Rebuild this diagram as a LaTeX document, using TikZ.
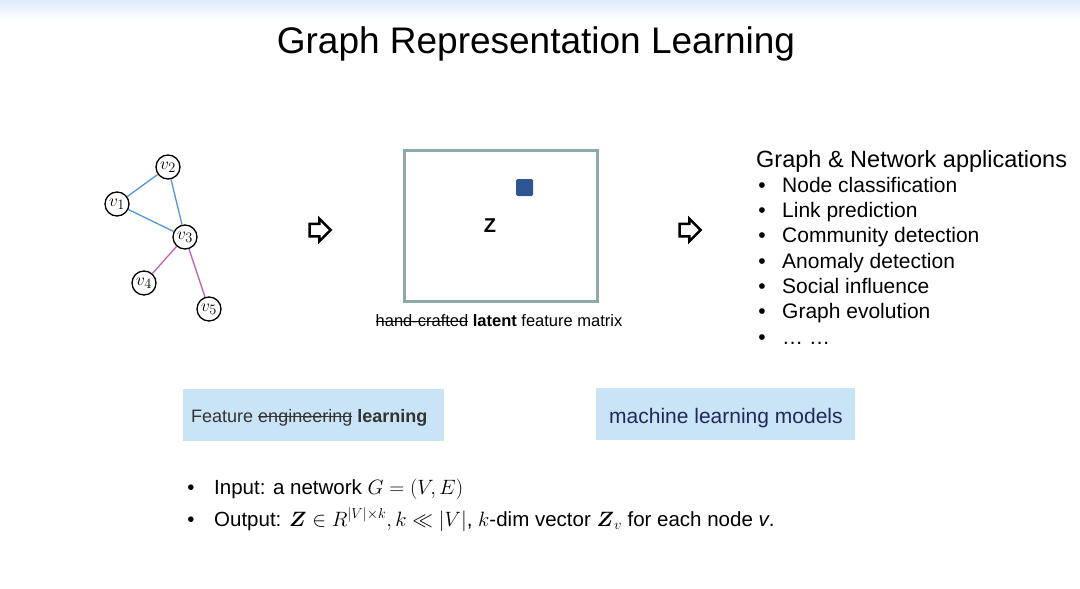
\documentclass[tikz,border=0pt]{standalone}
\usepackage{amsmath}
\usepackage{amssymb}
\usepackage{fontspec}
\setmainfont{Liberation Sans}
\usetikzlibrary{shapes.arrows}

\definecolor{edgeblue}{RGB}{80,150,212}
\definecolor{edgepink}{RGB}{192,96,184}
\definecolor{matgray}{RGB}{140,170,170}
\definecolor{cellblue}{RGB}{45,85,145}
\definecolor{boxblue}{RGB}{200,228,246}
\definecolor{navytext}{RGB}{35,40,90}
\definecolor{topband}{RGB}{222,236,250}

\newcommand{\fs}[1]{\fontsize{#1}{#1}\selectfont}
\newsavebox{\strkbox}
\newcommand{\strk}[1]{\sbox{\strkbox}{#1}%
  \rlap{\rule[0.3em]{\wd\strkbox}{0.07em}}\usebox{\strkbox}}

\begin{document}
\begin{tikzpicture}[x=1pt,y=-1pt,
  vert/.style={circle,draw,line width=1.3pt,minimum size=24pt,inner sep=0pt,font=\fs{19}},
  blueedge/.style={draw=edgeblue,line width=1.3pt},
  pinkedge/.style={draw=edgepink,line width=1.3pt},
  fatarrow/.style={single arrow,draw,line width=2.5pt,inner sep=5pt,minimum height=21pt,
    single arrow head extend=5pt,single arrow head indent=0pt},
  bluebox/.style={fill=boxblue,inner sep=0pt},
  txt/.style={inner sep=0pt,anchor=base west},
  bul/.style={inner sep=0pt,anchor=base}]
\useasboundingbox (0,0) rectangle (1080,589);
\shade[top color=topband,bottom color=white] (0,0) rectangle (1080,20);

% title
\node[inner sep=0pt,anchor=base] (title) at (536,53) {\fs{37}Graph Representation Learning};

% input graph
\node[vert] (v2) at (168,167) {$v_2$};
\node[vert] (v1) at (117,204) {$v_1$};
\node[vert] (v3) at (185,237) {$v_3$};
\node[vert] (v4) at (144,283) {$v_4$};
\node[vert] (v5) at (209,309) {$v_5$};
\draw[blueedge] (v1) -- (v2);
\draw[blueedge] (v2) -- (v3);
\draw[blueedge] (v1) -- (v3);
\draw[pinkedge] (v3) -- (v4);
\draw[pinkedge] (v3) -- (v5);

% arrows
\node[fatarrow] (arr1) at (317,230) {};
\node[fatarrow] (arr2) at (687,230) {};

% embedding matrix
\node[draw=matgray,line width=3pt,minimum width=193pt,minimum height=151pt,inner sep=0pt] (mat) at (500.5,225.5) {};
\node[fill=cellblue,rounded corners=1.5pt,minimum size=17pt,inner sep=0pt] (cell) at (524.5,187.5) {};
\node[inner sep=0pt] (zlab) at (490,226) {\fs{20}\bfseries Z};
\node[inner sep=0pt] (cap) at (499,321) {\fs{16.5}\strk{hand-crafted} \textbf{latent} feature matrix};

% applications
\node[txt] (apphead) at (756,167) {\fs{23.5}Graph \& Network applications};
\foreach \t [count=\i] in {Node classification,Link prediction,Community detection,
    Anomaly detection,Social influence,Graph evolution,\dots\ \dots} {
  \node[bul] (b\i) at (762,{167+25.3*\i}) {\fs{21}•};
  \node[txt] (app\i) at (782,{167+25.3*\i}) {\fs{21}\t};
}

% boxes
\node[bluebox,minimum width=261pt,minimum height=52pt] (fbox) at (313.5,415) {};
\node[txt] (ftext) at (191,422.5) {\fs{18}\color{black!80}Feature \strk{engineering} \textbf{learning}};
\node[bluebox,minimum width=259pt,minimum height=52pt] (mbox) at (725.5,414) {};
\node[txt] (mtext) at (609,423.5) {\fs{21}\color{navytext}machine learning models};

% input / output
\node[bul] (ib1) at (191,494) {\fs{20.5}•};
\node[txt] (inp) at (214,494) {\fs{20.5}Input: a network $G=(V,E)$};
\node[bul] (ib2) at (191,526) {\fs{20.5}•};
\node[txt] (outp) at (214,526) {\fs{20.5}Output: $\boldsymbol{Z}\in R^{|V|\times k}, k\ll|V|$, $k$-dim vector $\boldsymbol{Z}_v$ for each node \textit{v}.};
\end{tikzpicture}
\end{document}
